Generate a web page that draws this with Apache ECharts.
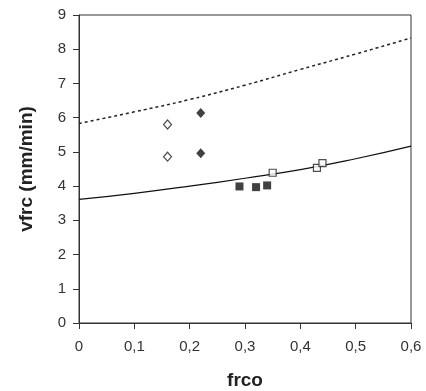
<!DOCTYPE html>
<html>
<head>
<meta charset="utf-8">
<script src="https://cdn.jsdelivr.net/npm/echarts@6/dist/echarts.min.js"></script>
<style>
  html, body { margin: 0; padding: 0; background: #fff; }
  #chart { width: 426px; height: 391px; }
</style>
</head>
<body>
<div id="chart"></div>
<script>
// curve sample points
const curveX = [0, 0.1, 0.2, 0.3, 0.4, 0.5, 0.6];
const upperCurve = [5.83, 6.17, 6.53, 6.95, 7.41, 7.86, 8.33];
const lowerCurve = [3.61, 3.79, 4.0, 4.23, 4.48, 4.8, 5.17];

// measured points
const openDiamonds = [[0.16, 5.8], [0.16, 4.86]];
const filledDiamonds = [[0.22, 6.14], [0.22, 4.96]];
const filledSquares = [[0.29, 3.99], [0.32, 3.97], [0.34, 4.02]];
const openSquares = [[0.35, 4.39], [0.43, 4.53], [0.44, 4.67]];

const chart = echarts.init(document.getElementById('chart'));

const font = 'Liberation Sans, Arial, sans-serif';

let option = {
    animation: false,
    backgroundColor: '#fff',
    grid: {
        left: 79,
        right: 15,
        top: 15,
        bottom: 68,
        outerBoundsMode: 'none',
        containLabel: false,
        show: true,
        borderColor: '#333',
        borderWidth: 1
    },
    xAxis: {
        type: 'value',
        min: 0,
        max: 0.6,
        interval: 0.1,
        name: 'frco',
        nameLocation: 'middle',
        nameGap: 48,
        nameTextStyle: { fontFamily: font, fontSize: 19, fontWeight: 'bold', color: '#222' },
        axisLine: { lineStyle: { color: '#333', width: 1 } },
        axisTick: { show: true, length: 6, lineStyle: { color: '#333' } },
        axisLabel: {
            margin: 16,
            fontFamily: font,
            fontSize: 15,
            color: '#333',
            formatter: v => String(Math.round(v * 10) / 10).replace('.', ',')
        },
        splitLine: { show: false }
    },
    yAxis: {
        type: 'value',
        min: 0,
        max: 9,
        interval: 1,
        name: 'vfrc (mm/min)',
        nameLocation: 'middle',
        nameGap: 43,
        nameTextStyle: { fontFamily: font, fontSize: 19, fontWeight: 'bold', color: '#222' },
        axisLine: { show: true, lineStyle: { color: '#333', width: 1 } },
        axisTick: { show: true, length: 6, lineStyle: { color: '#333' } },
        axisLabel: { margin: 13, fontFamily: font, fontSize: 15, color: '#333' },
        splitLine: { show: false }
    },
    series: [
        {
            type: 'line',
            data: curveX.map((x, i) => [x, upperCurve[i]]),
            smooth: true,
            showSymbol: false,
            lineStyle: { color: '#222', width: 1.5, type: [3, 3] },
            z: 2
        },
        {
            type: 'line',
            data: curveX.map((x, i) => [x, lowerCurve[i]]),
            smooth: true,
            showSymbol: false,
            lineStyle: { color: '#111', width: 1.2 },
            z: 2
        },
        {
            type: 'scatter',
            data: openDiamonds,
            symbol: 'diamond',
            symbolSize: [8, 9],
            itemStyle: { color: '#fff', borderColor: '#222', borderWidth: 1.2 },
            z: 3
        },
        {
            type: 'scatter',
            data: filledDiamonds,
            symbol: 'diamond',
            symbolSize: [9, 10],
            itemStyle: { color: '#111' },
            z: 3
        },
        {
            type: 'scatter',
            data: filledSquares,
            symbol: 'rect',
            symbolSize: 8,
            itemStyle: { color: '#111' },
            z: 3
        },
        {
            type: 'scatter',
            data: openSquares,
            symbol: 'rect',
            symbolSize: 7,
            itemStyle: { color: '#fff', borderColor: '#222', borderWidth: 1.2 },
            z: 3
        }
    ]
};

chart.setOption(option);
</script>
</body>
</html>
